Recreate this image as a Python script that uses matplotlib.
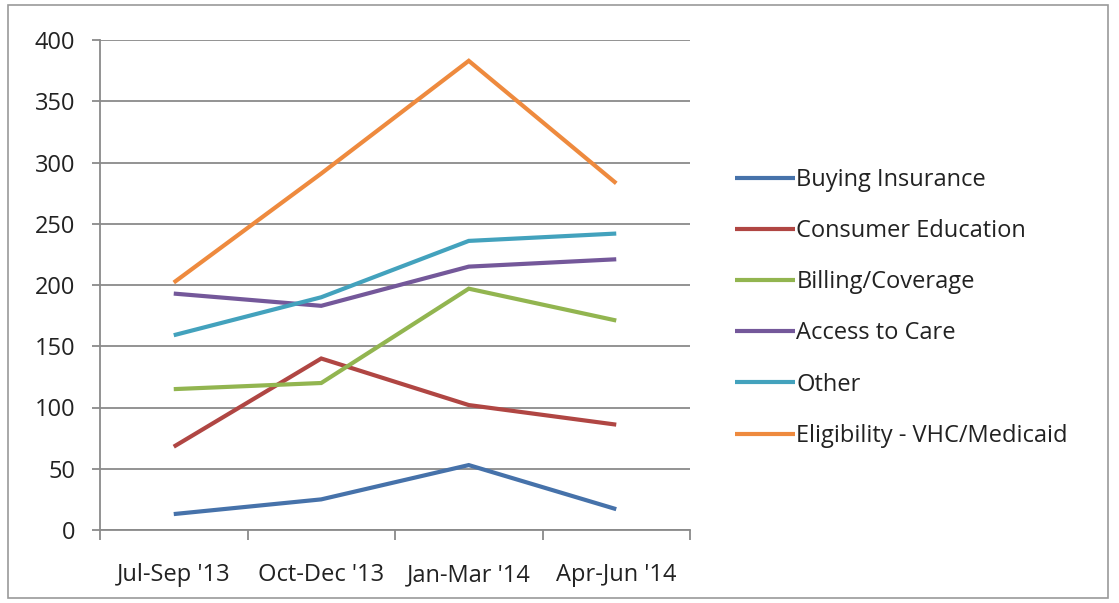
import matplotlib
matplotlib.use("Agg")
import matplotlib.pyplot as plt
from matplotlib.patches import Rectangle

categories = ["Jul-Sep '13", "Oct-Dec '13", "Jan-Mar '14", "Apr-Jun '14"]
buying_insurance = [13, 25, 53, 17]
consumer_education = [68, 140, 102, 86]
billing_coverage = [115, 120, 197, 171]
access_to_care = [193, 183, 215, 221]
other = [159, 190, 236, 242]
eligibility = [202, 291, 383, 283]

series_names = ["Buying Insurance", "Consumer Education", "Billing/Coverage",
                "Access to Care", "Other", "Eligibility - VHC/Medicaid"]
series_values = [buying_insurance, consumer_education, billing_coverage,
                 access_to_care, other, eligibility]
colors = ["#4672AA", "#B04643", "#92B550", "#74589A", "#43A2BD", "#EE8A3E"]

yticks = [0, 50, 100, 150, 200, 250, 300, 350, 400]

plt.rcParams['font.family'] = ['Open Sans', 'DejaVu Sans']
FS = 17

fig = plt.figure(figsize=(11.19, 6.03), dpi=100)
ax = fig.add_axes([100/1119, 1-530/603, 590/1119, 490/603])

x = list(range(len(categories)))
for name, vals, c in zip(series_names, series_values, colors):
    ax.plot(x, vals, color=c, lw=3.0, label=name, solid_capstyle='butt',
            solid_joinstyle='miter')

ax.set_xlim(-0.5, len(categories) - 0.5)
ax.set_ylim(0, 400)
ax.set_yticks(yticks)
ax.set_yticklabels([str(v) for v in yticks], fontsize=FS, color='#222222')
ax.yaxis.grid(True, color='#8a8a8a', lw=1.3)
ax.set_axisbelow(True)

ax.set_xticks(x)
ax.set_xticklabels(categories, fontsize=FS, color='#222222')
ax.set_xticks([i - 0.5 for i in range(len(categories) + 1)], minor=True)
ax.tick_params(axis='x', which='major', length=0, pad=24)
ax.tick_params(axis='x', which='minor', length=7, width=1.3, color='#8a8a8a', direction='out')
ax.tick_params(axis='y', length=6, width=1.3, color='#8a8a8a', pad=12)

for s in ['top', 'right']:
    ax.spines[s].set_visible(False)
for s in ['left', 'bottom']:
    ax.spines[s].set_color('#8a8a8a')
    ax.spines[s].set_linewidth(1.3)

leg = fig.legend(loc='upper left', bbox_to_anchor=(735/1119, 1-168/603),
                 frameon=False, fontsize=FS, handlelength=2.55,
                 handletextpad=0.05, labelspacing=1.15, borderaxespad=0,
                 borderpad=0)
for t in leg.get_texts():
    t.set_color('#222222')

fig.patches.append(Rectangle((8/1119, 5/603), 1100/1119, 593/603,
                             transform=fig.transFigure, fill=False,
                             edgecolor='#9a9a9a', lw=1.2))

fig.savefig("out.png", dpi=100)
